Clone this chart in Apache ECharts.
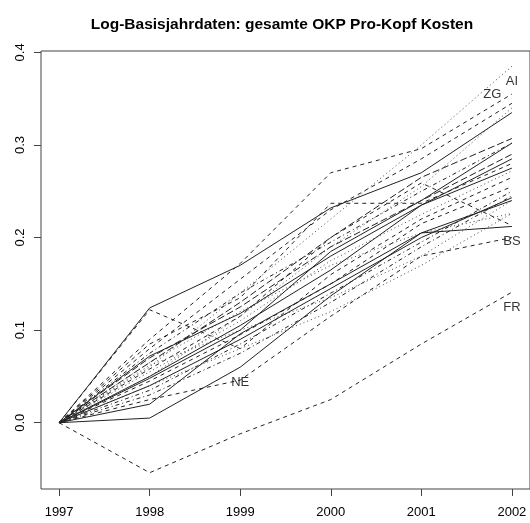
<!DOCTYPE html>
<html><head><meta charset="utf-8">
<script src="https://cdn.jsdelivr.net/npm/echarts@6/dist/echarts.min.js"></script>
<style>html,body{margin:0;padding:0;background:#fff}#c{width:530px;height:523px}</style>
</head><body><div id="c"></div>
<script>
const years = [1997, 1998, 1999, 2000, 2001, 2002];
const yTicks = [0, 0.1, 0.2, 0.3, 0.4];
const names = ['ZH','BE','LU','UR','SZ','OW','NW','GL','ZG','FR','SO','BS','BL','SH','AR','AI','SG','GR','AG','TG','TI','VD','VS','NE','GE','JU'];
const ZH = [0, 0.050, 0.105, 0.165, 0.235, 0.285];
const BE = [0, 0.045, 0.095, 0.150, 0.215, 0.255];
const LU = [0, 0.055, 0.110, 0.175, 0.225, 0.272];
const UR = [0, 0.030, 0.075, 0.130, 0.190, 0.245];
const SZ = [0, 0.070, 0.125, 0.190, 0.240, 0.290];
const OW = [0, 0.124, 0.170, 0.232, 0.270, 0.335];
const NW = [0, 0.122, 0.080, 0.160, 0.220, 0.265];
const GL = [0, 0.065, 0.120, 0.170, 0.205, 0.226];
const ZG = [0, 0.090, 0.172, 0.270, 0.296, 0.355];
const FR = [0, -0.054, -0.012, 0.025, 0.085, 0.141];
const SO = [0, 0.035, 0.085, 0.140, 0.195, 0.250];
const BS = [0, 0.020, 0.096, 0.150, 0.205, 0.212];
const BL = [0, 0.058, 0.115, 0.200, 0.259, 0.213];
const SH = [0, 0.062, 0.100, 0.135, 0.180, 0.240];
const AR = [0, 0.085, 0.135, 0.237, 0.237, 0.280];
const AI = [0, 0.060, 0.140, 0.220, 0.300, 0.385];
const SG = [0, 0.040, 0.090, 0.145, 0.200, 0.243];
const GR = [0, 0.075, 0.140, 0.195, 0.250, 0.302];
const AG = [0, 0.048, 0.100, 0.185, 0.240, 0.302];
const TG = [0, 0.065, 0.130, 0.200, 0.265, 0.307];
const TI = [0, 0.080, 0.155, 0.230, 0.285, 0.345];
const VD = [0, 0.072, 0.118, 0.180, 0.235, 0.275];
const VS = [0, 0.040, 0.080, 0.120, 0.170, 0.226];
const NE = [0, 0.005, 0.060, 0.137, 0.205, 0.240];
const GE = [0, 0.050, 0.115, 0.190, 0.255, 0.340];
const JU = [0, 0.025, 0.046, 0.115, 0.180, 0.200];
const values = {ZH,BE,LU,UR,SZ,OW,NW,GL,ZG,FR,SO,BS,BL,SH,AR,AI,SG,GR,AG,TG,TI,VD,VS,NE,GE,JU};
const labelNames = ['AI', 'ZG', 'BS', 'FR', 'NE'];
const labelYearIdx = [5, 5, 5, 5, 2];

const dashStyles = {
  solid: 'solid', dashed: [4, 4], dotted: [1, 3], dotdash: [1, 3, 4, 3], longdash: [7, 3]
};
const styleOf = {ZH:'solid',BE:'dashed',LU:'dotted',UR:'dotdash',SZ:'longdash',OW:'solid',NW:'dashed',GL:'dotted',ZG:'dashed',FR:'dashed',SO:'dotdash',BS:'solid',BL:'dashed',SH:'dotted',AR:'dashed',AI:'dotted',SG:'solid',GR:'dotdash',AG:'solid',TG:'longdash',TI:'dashed',VD:'solid',VS:'dotted',NE:'solid',GE:'dotted',JU:'dashed'};

const FONT = '"Liberation Sans", Arial, Helvetica, sans-serif';
const series = names.map(n => ({
  type: 'line', name: n, silent: true, symbol: 'none', animation: false,
  data: years.map((y, i) => [y, values[n][i]]),
  lineStyle: { color: styleOf[n] === 'dotted' ? '#444' : '#222', width: 1, type: dashStyles[styleOf[n]] }
}));
const labelPos = {AI: 'bottom', ZG: 'left', BS: 'bottom', FR: 'bottom', NE: 'bottom'};
series.push({
  type: 'scatter', silent: true, animation: false, symbolSize: 1,
  itemStyle: { color: 'rgba(0,0,0,0)' },
  z: 5,
  data: labelNames.map((n, k) => ({
    value: [years[labelYearIdx[k]], values[n][labelYearIdx[k]]],
    label: { show: true, formatter: n, position: labelPos[n], distance: labelPos[n] === 'left' ? 10 : 8,
      color: '#000', fontSize: 13, fontFamily: FONT }
  }))
});

const chart = echarts.init(document.getElementById('c'), null, { renderer: 'canvas' });
chart.setOption({
  backgroundColor: '#fff',
  animation: false,
  title: {
    text: 'Log-Basisjahrdaten: gesamte OKP Pro-Kopf Kosten',
    left: 277, top: 12, textAlign: 'center',
    textStyle: { fontFamily: FONT, fontWeight: 'bold', fontSize: 15.5, color: '#000' }
  },
  grid: { left: 41, top: 51, width: 490, height: 438, show: true, borderColor: '#444', borderWidth: 1, backgroundColor: 'transparent' },
  xAxis: {
    type: 'value', min: 1996.8, max: 2002.2,
    axisLine: { show: false, onZero: false },
    splitLine: { show: false },
    axisTick: { show: true, length: 7, lineStyle: { color: '#444' }, customValues: years },
    axisLabel: { show: true, margin: 17, fontSize: 13, color: '#000', fontFamily: FONT, customValues: years, formatter: v => String(v) }
  },
  yAxis: {
    type: 'value', min: -0.0716, max: 0.4015,
    axisLine: { show: false, onZero: false },
    splitLine: { show: false },
    axisTick: { show: true, length: 7, lineStyle: { color: '#444' }, customValues: yTicks },
    axisLabel: { show: true, rotate: 90, margin: 14, fontSize: 13, color: '#000', fontFamily: FONT, customValues: yTicks, formatter: v => v.toFixed(1) }
  },
  series: series
});
</script></body></html>
